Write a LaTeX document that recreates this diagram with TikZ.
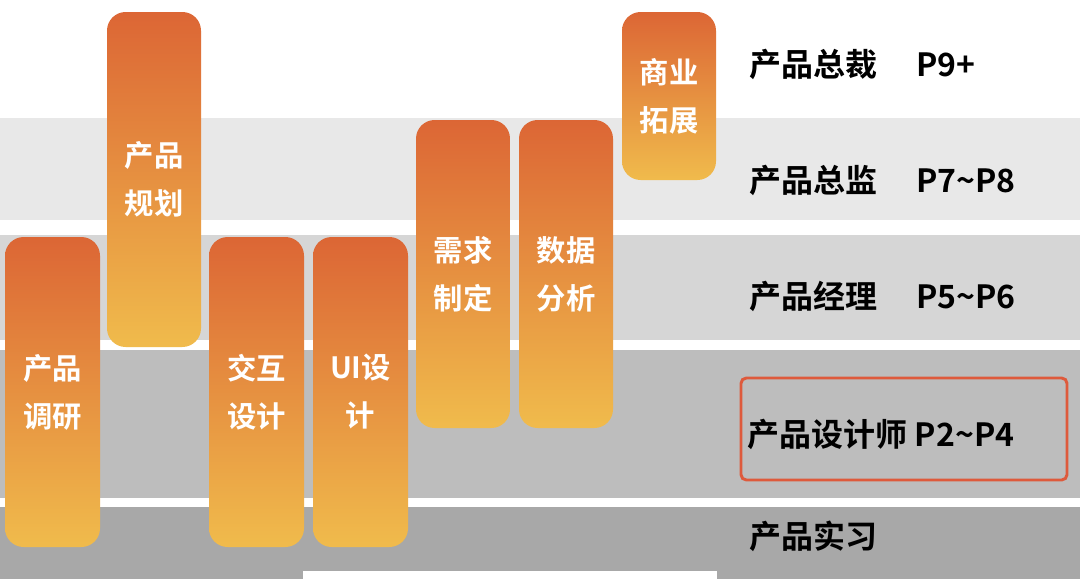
\documentclass[tikz,border=0pt]{standalone}
\usepackage{fontspec}
\newfontfamily\cjk{Noto Sans CJK SC Bold}
\definecolor{ctop}{HTML}{DC6635}
\definecolor{cbot}{HTML}{F0BB4C}
\begin{document}
\begin{tikzpicture}[x=0.75pt,y=-0.75pt,
  bar/.style={rounded corners=14pt,top color=ctop,bottom color=cbot,draw=none},
  bartxt/.style={text=white,font=\cjk\fontsize{22}{36}\selectfont,align=center},
  lvl/.style={anchor=west,font=\cjk\fontsize{24}{28}\selectfont,text=black}]
\useasboundingbox (0,0) rectangle (1080,579);
\fill[white] (0,0) rectangle (1080,579);
\fill[black!9] (0,118) rectangle (1080,220);
\fill[black!16] (0,235) rectangle (1080,340);
\fill[black!26] (0,350) rectangle (1080,498);
\fill[black!34] (0,507) rectangle (1080,579);
\fill[white] (303,571) rectangle (717,579);
\foreach \n/\a/\b/\t/\u/\s in {b1/5/100/237/547/{产品\\调研},b2/107/201/12/347/{产品\\规划},b3/209/304/237/547/{交互\\设计},b4/313/408/237/547/{UI设\\计},b5/416/510/120/428/{需求\\制定},b6/519/613/120/428/{数据\\分析},b7/622/716/12/180/{商业\\拓展}}{
  \shade[bar] (\a,\t) rectangle (\b,\u);
  \node[bartxt] (\n) at ({(\a+\b)/2},{(\t+\u)/2}) {\s};
}
\node[lvl] (l1) at (745,64) {产品总裁\hspace{1.2em}P9+};
\node[lvl] (l2) at (745,180) {产品总监\hspace{1.2em}P7\textasciitilde P8};
\node[lvl] (l3) at (745,296) {产品经理\hspace{1.2em}P5\textasciitilde P6};
\node[lvl] (l4) at (743,434) {产品设计师 P2\textasciitilde P4};
\node[lvl] (l5) at (745,536) {产品实习};
\draw[draw={rgb,255:red,222;green,90;blue,60},line width=2.2pt,rounded corners=4pt] (741,378) rectangle (1067,480);
\end{tikzpicture}
\end{document}
